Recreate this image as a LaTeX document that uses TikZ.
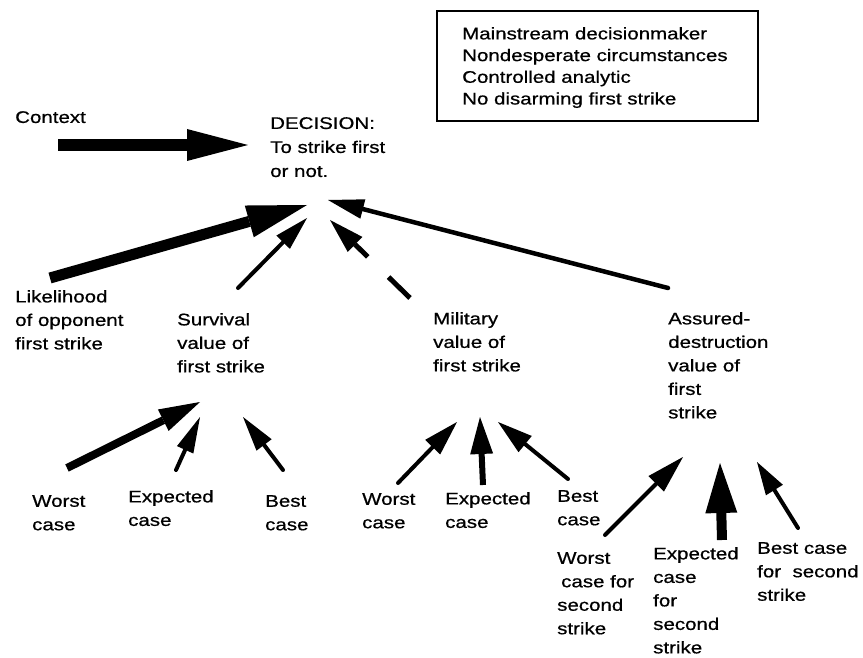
\documentclass[tikz,border=0pt]{standalone}
\usepackage{fontspec}
\setmainfont[FakeStretch=1.22, FakeBold=0.7]{Liberation Sans}
\usetikzlibrary{arrows.meta}
\begin{document}
\begin{tikzpicture}[x=1pt,y=-1pt,
  lbl/.style={anchor=north west, inner sep=0pt, align=left,
    font=\fontsize{16.8}{23.5}\selectfont},
  boxtxt/.style={lbl, font=\fontsize{16.8}{21.7}\selectfont},
  dectxt/.style={lbl, font=\fontsize{16.8}{24}\selectfont},
  frame/.style={draw, line width=2.2pt, anchor=north west, inner sep=0pt,
    minimum width=321pt, minimum height=110pt},
  ptr/.style n args={3}{draw, line width=#1,
    -{Triangle[length=#2, width=#3, line width=0pt]}},
]
\useasboundingbox (0,0) rectangle (863,658);

% ---- text ----
\node[lbl] (context) at (15,111) {Context};
\node[dectxt] (decision) at (270,117) {DECISION:\\To strike first\\or not.};
\node[frame] (framebox) at (436,10) {};
\node[boxtxt] (conditions) at (462,27)
  {Mainstream decisionmaker\\Nondesperate circumstances\\Controlled analytic\\No disarming first strike};

\node[lbl] (likelihood) at (15,290) {Likelihood\\of opponent\\first strike};
\node[lbl] (survival) at (177,313) {Survival\\value of\\first strike};
\node[lbl] (military) at (433,312) {Military\\value of\\first strike};
\node[lbl] (assured) at (668,312) {Assured-\\destruction\\value of\\first\\strike};

\node[lbl] (sworst) at (32,495) {Worst\\case};
\node[lbl] (sexp) at (128,490) {Expected\\case};
\node[lbl] (sbest) at (265,495) {Best\\case};
\node[lbl] (mworst) at (362,493) {Worst\\case};
\node[lbl] (mexp) at (445,492) {Expected\\case};
\node[lbl] (mbest) at (557,490) {Best\\case};
\node[lbl] (aworst) at (557,552) {Worst\\\hspace*{4pt}case for\\second\\strike};
\node[lbl] (aexp) at (653,547) {Expected\\case\\for\\second\\strike};
\node[lbl] (abest) at (757,542) {Best case\\for\ \ second\\strike};

% ---- arrow ends ----
\coordinate (ctxT) at (58,145);   \coordinate (decA) at (248,145);
\coordinate (likT) at (50,278);   \coordinate (decB) at (307,205);
\coordinate (surT) at (238,288);  \coordinate (decC) at (307,218);
\coordinate (milT) at (410,298);  \coordinate (decD) at (330,220);
\coordinate (assT) at (668,288);  \coordinate (decE) at (328,200);

\coordinate (swT) at (67,468);    \coordinate (surA) at (200,402);
\coordinate (seT) at (176,470);   \coordinate (surB) at (200,417);
\coordinate (sbT) at (283,470);   \coordinate (surC) at (243,417);

\coordinate (mwT) at (398,483);   \coordinate (milA) at (457,422);
\coordinate (meT) at (483,485);   \coordinate (milB) at (480,417);
\coordinate (mbT) at (568,479);   \coordinate (milC) at (498,422);

\coordinate (awT) at (605,535);   \coordinate (assA) at (683,457);
\coordinate (aeT) at (722,540);   \coordinate (assB) at (720,463);
\coordinate (abT) at (798,528);   \coordinate (assC) at (757,462);

% ---- arrows into the decision ----
\draw[ptr={12pt}{61pt}{32pt}] (ctxT) -- (decA);
\draw[ptr={11pt}{60pt}{33pt}] (likT) -- (decB);
\draw[ptr={4pt}{34pt}{19pt}, line cap=round] (surT) -- (decC);
\draw[ptr={5pt}{35pt}{21pt}, dash pattern=on 30pt off 29pt on 300pt] (milT) -- (decD);
\draw[ptr={4.5pt}{36pt}{20pt}, line cap=round] (assT) -- (decE);

% ---- survival value ----
\draw[ptr={8pt}{41pt}{24pt}] (swT) -- (surA);
\draw[ptr={4pt}{36pt}{18pt}, line cap=round] (seT) -- (surB);
\draw[ptr={4pt}{35pt}{19pt}, line cap=round] (sbT) -- (surC);

% ---- military value ----
\draw[ptr={4pt}{35pt}{21pt}, line cap=round] (mwT) -- (milA);
\draw[ptr={6pt}{37pt}{23pt}] (meT) -- (milB);
\draw[ptr={4pt}{35pt}{21pt}, line cap=round] (mbT) -- (milC);

% ---- assured-destruction value ----
\draw[ptr={4pt}{38pt}{22pt}, line cap=round] (awT) -- (assA);
\draw[ptr={10pt}{50pt}{32pt}] (aeT) -- (assB);
\draw[ptr={4pt}{33pt}{20pt}, line cap=round] (abT) -- (assC);
\end{tikzpicture}
\end{document}
